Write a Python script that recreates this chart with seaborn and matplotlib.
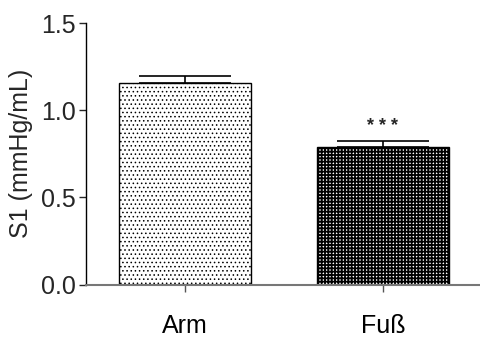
import matplotlib
matplotlib.use("Agg")
import matplotlib.pyplot as plt
import seaborn as sns
import pandas as pd

categories = ["Arm", "Fuß"]
means = [1.155, 0.79]
sems = [0.043, 0.033]
hatches = ["....", "+++++"]
yticks = [0.0, 0.5, 1.0, 1.5]

sns.set_theme(style="ticks")
plt.rcParams['font.family'] = ['Liberation Sans', 'DejaVu Sans']
plt.rcParams['hatch.linewidth'] = 1.0

fig = plt.figure(figsize=(4.8, 3.4), dpi=100)
ax = fig.add_axes([0.179, 0.163, 0.825, 0.769])

df = pd.DataFrame({"cat": categories, "val": means})
sns.barplot(data=df, x="cat", y="val", ax=ax, color="white", width=0.667,
            edgecolor="black", linewidth=1.0, errorbar=None)
hlw = [0.6, 1.3]
for patch, h, lw in zip(ax.patches, hatches, hlw):
    patch.set_hatch(h)
    patch.set_facecolor("white")
    patch.set_edgecolor("black")
    if hasattr(patch, "set_hatch_linewidth"):
        patch.set_hatch_linewidth(lw)

ax.errorbar(range(len(categories)), means, yerr=[[0]*len(sems), sems],
            fmt="none", ecolor="black", elinewidth=1.2, capsize=33, capthick=1.2)

ax.text(1, means[1] + sems[1] + 0.035, "* * *", ha="center", va="bottom",
        fontsize=13, fontweight="bold")

ax.set_xlim(-0.5, 1.5)
ax.set_ylim(0, 1.5)
ax.set_yticks(yticks)
ax.set_yticklabels([f"{t:.1f}" for t in yticks], fontsize=18)
ax.set_xticks(range(len(categories)))
ax.set_xticklabels(categories, fontsize=18)
ax.tick_params(axis="x", length=5, width=1, pad=16, labelcolor="black", color="#555555")
ax.tick_params(axis="y", length=5, width=1, pad=2)
ax.set_xlabel("")
ax.set_ylabel("S1 (mmHg/mL)", fontsize=18, labelpad=6)
ax.spines["top"].set_visible(False)
ax.spines["right"].set_visible(False)
ax.spines["left"].set_color("black")
ax.spines["left"].set_linewidth(1)
ax.spines["bottom"].set_color("#777777")
ax.spines["bottom"].set_linewidth(1.5)

fig.savefig("out.png", dpi=100)
